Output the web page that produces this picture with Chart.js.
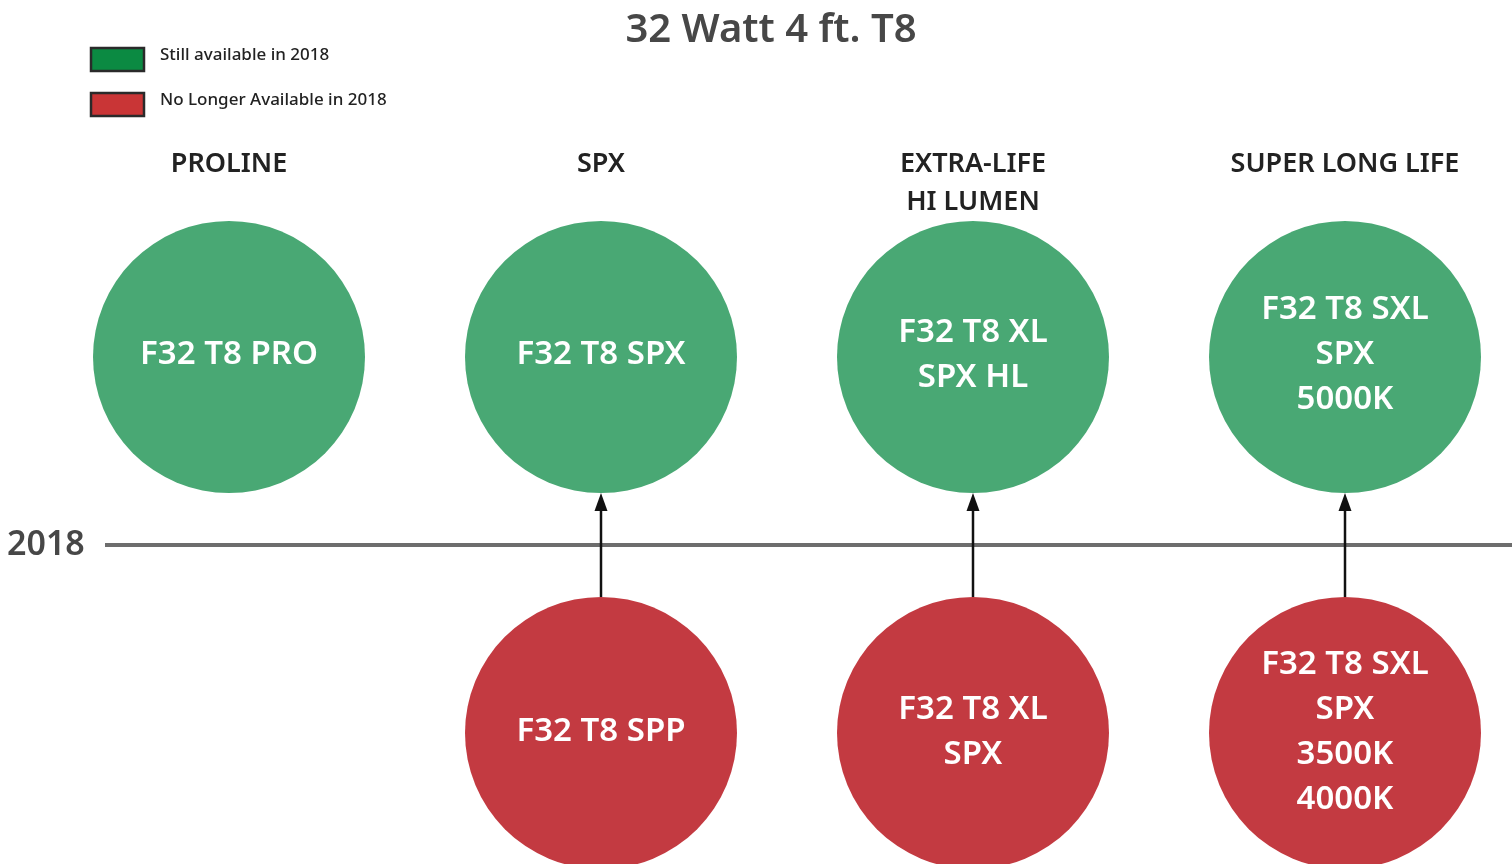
<!DOCTYPE html>
<html>
<head>
<meta charset="utf-8">
<script src="https://cdn.jsdelivr.net/npm/chart.js@4/dist/chart.umd.min.js"></script>
<style>
  html, body { margin: 0; padding: 0; background: #fff; }
  canvas { display: block; }
</style>
</head>
<body>
<canvas id="c" width="1512" height="864"></canvas>
<script>
// 32 W 4 ft T8 lamp lineup: what survives 2018 (top row) vs what is dropped (bottom row).
const title = "32 Watt 4 ft. T8";
const yearLabel = "2018";
const columns = ["PROLINE", "SPX", "EXTRA-LIFE\nHI LUMEN", "SUPER LONG LIFE"];
const stillAvailable = ["F32 T8 PRO", "F32 T8 SPX", "F32 T8 XL\nSPX HL", "F32 T8 SXL\nSPX\n5000K"];
const discontinued = [null, "F32 T8 SPP", "F32 T8 XL\nSPX", "F32 T8 SXL\nSPX\n3500K\n4000K"];
const legendLabels = ["Still available in 2018", "No Longer Available in 2018"];

// row values on the y axis: timeline sits at 0
const ROW_AVAILABLE = 1;
const ROW_DROPPED = -1;

const GREEN = "#49a874";
const RED = "#c33a41";
const LEGEND_GREEN = "#0b8a42";
const LEGEND_RED = "#c93536";
const INK = "#222";
const GREY_TEXT = "#474747";
const FONT = "'Noto Sans', 'Open Sans', sans-serif";
const BUBBLE_R = 136;

const availablePoints = stillAvailable.map((_, i) => ({ x: i + 1, y: ROW_AVAILABLE }));
const droppedPoints = [];
discontinued.forEach((name, i) => { if (name) droppedPoints.push({ x: i + 1, y: ROW_DROPPED }); });
const droppedNames = discontinued.filter((n) => n);

function multiline(ctx, text, x, y, lineH) {
  const lines = text.split("\n");
  const top = y - ((lines.length - 1) * lineH) / 2;
  lines.forEach((ln, k) => ctx.fillText(ln, x, top + k * lineH));
}

const decorations = {
  id: "decorations",
  afterDatasetsDraw(chart) {
    const { ctx, scales } = chart;
    const xs = scales.x, ys = scales.y;
    ctx.save();

    // arrows: dropped lamp -> replacement
    ctx.strokeStyle = "#111";
    ctx.fillStyle = "#111";
    ctx.lineWidth = 2.5;
    discontinued.forEach((name, i) => {
      if (!name) return;
      const x = xs.getPixelForValue(i + 1);
      const yFrom = ys.getPixelForValue(ROW_DROPPED) - BUBBLE_R;
      const yTo = ys.getPixelForValue(ROW_AVAILABLE) + BUBBLE_R;
      ctx.beginPath();
      ctx.moveTo(x, yFrom);
      ctx.lineTo(x, yTo + 14);
      ctx.stroke();
      ctx.beginPath();
      ctx.moveTo(x, yTo);
      ctx.lineTo(x - 6.5, yTo + 18);
      ctx.lineTo(x + 6.5, yTo + 18);
      ctx.closePath();
      ctx.fill();
    });

    // labels inside bubbles
    ctx.fillStyle = "#fff";
    ctx.textAlign = "center";
    ctx.textBaseline = "middle";
    ctx.font = `600 33px ${FONT}`;
    chart.getDatasetMeta(1).data.forEach((el, i) => multiline(ctx, stillAvailable[i], el.x, el.y - 2, 45));
    chart.getDatasetMeta(2).data.forEach((el, i) => multiline(ctx, droppedNames[i], el.x, el.y - 1, 45));

    // column headers
    ctx.fillStyle = INK;
    ctx.font = `600 27px ${FONT}`;
    ctx.textBaseline = "middle";
    columns.forEach((c, i) => {
      const x = xs.getPixelForValue(i + 1);
      c.split("\n").forEach((ln, k) => ctx.fillText(ln, x, 164 + k * 38));
    });

    // timeline year
    ctx.fillStyle = GREY_TEXT;
    ctx.font = `600 34px ${FONT}`;
    ctx.textAlign = "left";
    ctx.fillText(yearLabel, 7, ys.getPixelForValue(0));

    // title
    ctx.textAlign = "center";
    ctx.font = `600 40px ${FONT}`;
    ctx.fillText(title, 771, 31);

    // legend
    const swatches = [LEGEND_GREEN, LEGEND_RED];
    ctx.textAlign = "left";
    ctx.font = `500 17px ${FONT}`;
    legendLabels.forEach((lab, k) => {
      const y = 48 + k * 45;
      ctx.fillStyle = swatches[k];
      ctx.fillRect(91, y, 53, 23);
      ctx.strokeStyle = "#2a2a2a";
      ctx.lineWidth = 2.5;
      ctx.strokeRect(91, y, 53, 23);
      ctx.fillStyle = INK;
      ctx.fillText(lab, 160, y + 7);
    });

    ctx.restore();
  },
};

// pixel mapping: columns 372px apart starting at 229, rows 188px either side of the line at 545
const X_MIN = 1 - 229 / 372;
const X_MAX = 1 + (1512 - 229) / 372;
const Y_MAX = 545 / 188;
const Y_MIN = -(864 - 545) / 188;
const LINE_START = 1 + (105 - 229) / 372;

new Chart(document.getElementById("c"), {
  type: "bubble",
  data: {
    datasets: [
      {
        type: "line",
        data: [{ x: LINE_START, y: 0 }, { x: X_MAX, y: 0 }],
        borderColor: "#6d6d6d",
        borderWidth: 4,
        pointRadius: 0,
        order: 3,
      },
      {
        label: legendLabels[0],
        data: availablePoints,
        backgroundColor: GREEN,
        borderWidth: 0,
        radius: BUBBLE_R,
        hoverRadius: 0,
        clip: false,
        order: 1,
      },
      {
        label: legendLabels[1],
        data: droppedPoints,
        backgroundColor: RED,
        borderWidth: 0,
        radius: BUBBLE_R,
        hoverRadius: 0,
        clip: false,
        order: 2,
      },
    ],
  },
  options: {
    responsive: false,
    animation: false,
    devicePixelRatio: 1,
    events: [],
    layout: { padding: 0, autoPadding: false },
    plugins: { legend: { display: false }, tooltip: { enabled: false }, title: { display: false } },
    scales: {
      x: { type: "linear", min: X_MIN, max: X_MAX, display: false },
      y: { type: "linear", min: Y_MIN, max: Y_MAX, display: false },
    },
  },
  plugins: [decorations],
});
</script>
</body>
</html>
